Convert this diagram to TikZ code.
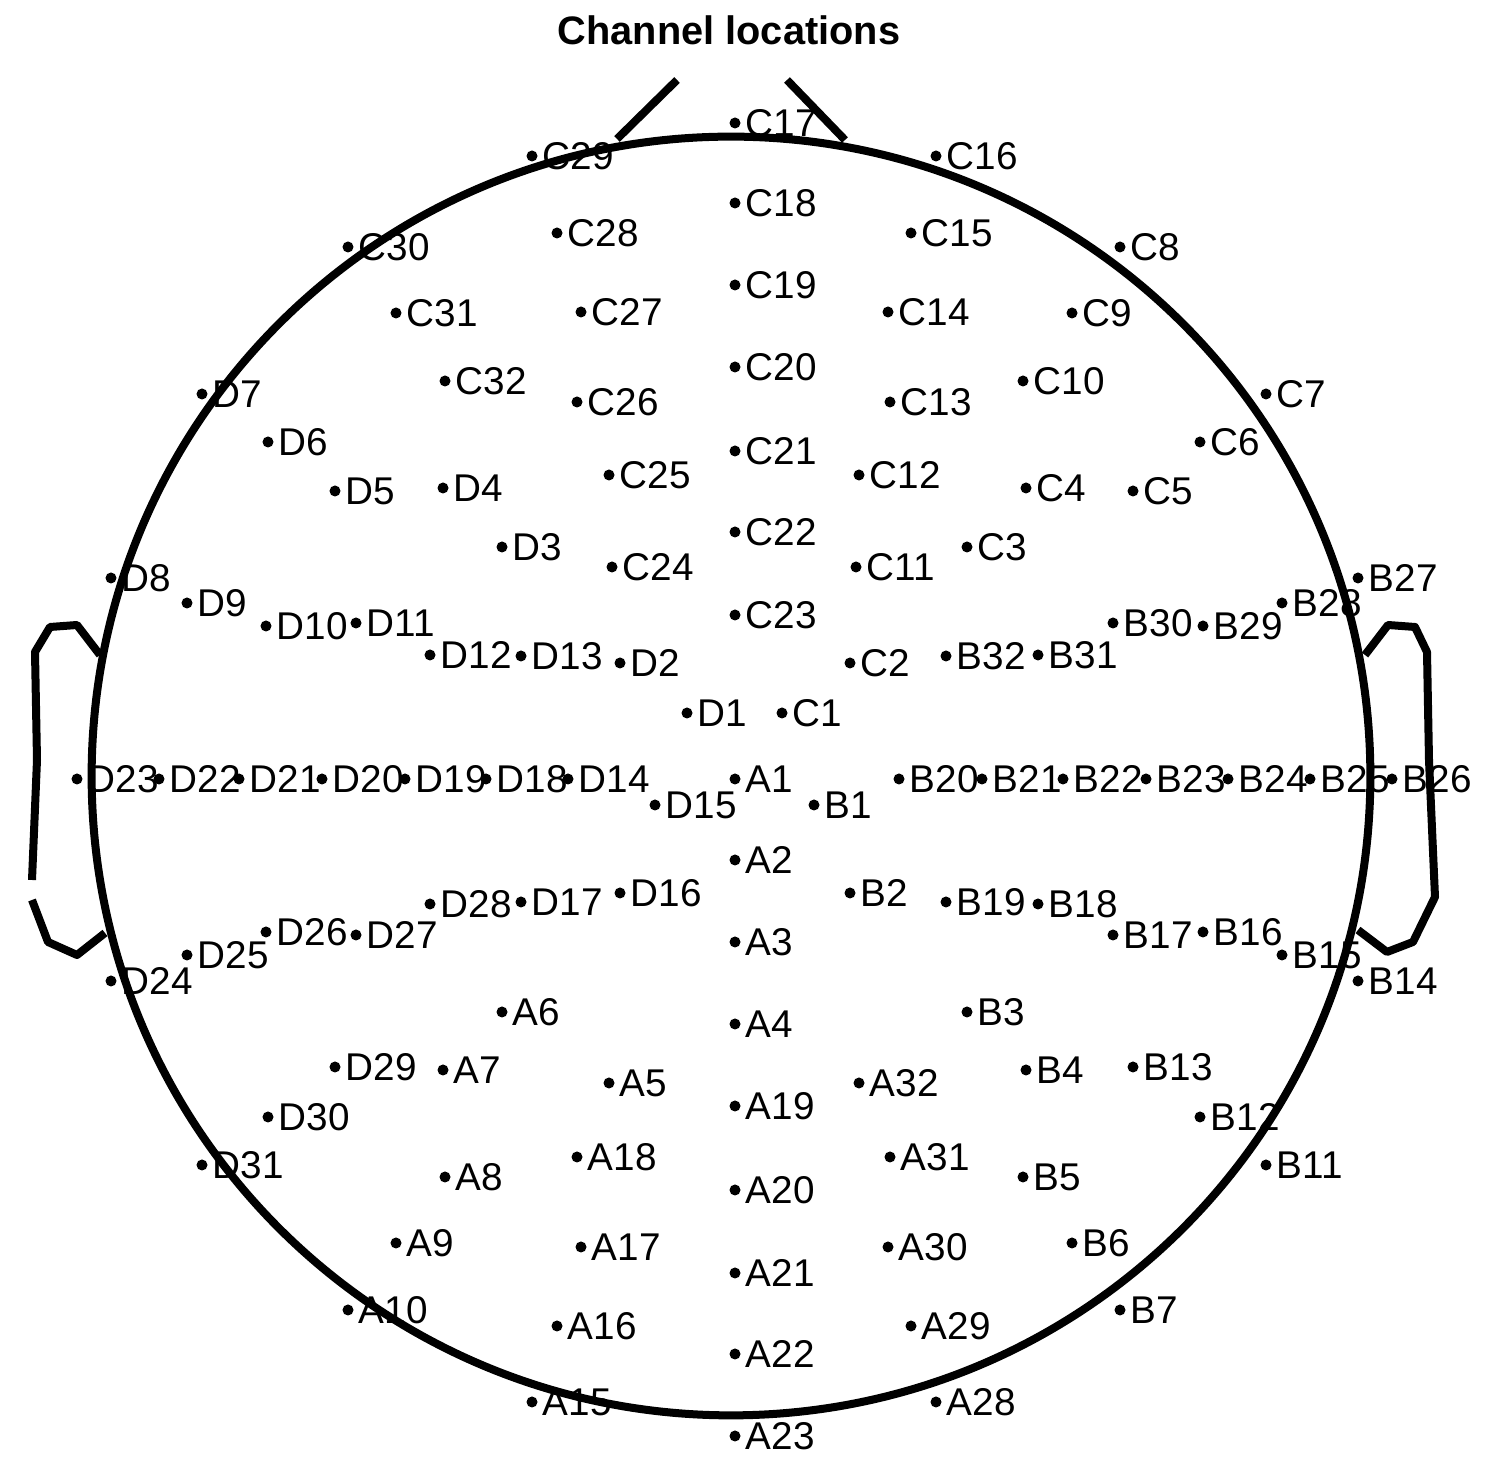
\documentclass[tikz,border=0pt]{standalone}
\usepackage{fontspec}
\setmainfont{Liberation Sans}
\usetikzlibrary{calc}
\tikzset{
  headline/.style={line width=0.08cm, line join=round},
  chdot/.style={
    circle, fill=black, inner sep=0pt, minimum size=0.11cm
  },
  chlabel/.style={
    anchor=base west, inner sep=0pt, font=\fontsize{11}{13}\selectfont
  },
  plottitle/.style={
    anchor=base, inner sep=0pt, font=\fontsize{11.3}{13}\selectfont\bfseries
  },
}

\begin{document}
\begin{tikzpicture}[x=0.01cm, y=-0.01cm]
  \useasboundingbox (0,0) rectangle (1487,1474);

  % --- Title ---
  \node[plottitle] (title) at (729,45) {Channel locations};

  % --- Head, nose and ears ---
  \coordinate (head) at (731,776);
  \draw[headline] (head) circle[radius=6.39cm];
  \draw[headline] (617,139) -- (677,80);
  \draw[headline] (787,80) -- (845,140);
  \draw[headline] (100,655) -- (77,625) -- (50,627) -- (35,652)
    -- (37,760) -- (32,880);
  \draw[headline] (32,900) -- (48,942) -- (77,955) -- (105,933);
  \draw[headline] (1365,655) -- (1388,625) -- (1415,627) -- (1427,652)
    -- (1429,760) -- (1435,897) -- (1413,942) -- (1387,952) -- (1358,930);

  % --- Channels ---
  \foreach \n/\x/\y in {
    C17/735/123, C18/735/203, C19/735/285, C20/735/367, C21/735/451,
    C22/735/532, C23/735/615, A1/735/779, A2/735/860, A3/735/942,
    A4/735/1024, A19/735/1106, A20/735/1190, A21/735/1273, A22/735/1354,
    A23/735/1436,
    C29/532/156, C16/936/156, C28/557/233, C15/911/233, C30/348/247,
    C8/1120/247, C31/396/313, C27/581/312, C14/888/312, C9/1072/313,
    C32/445/381, C10/1023/381, C26/577/402, C13/890/402, D7/202/394,
    C7/1266/394, D6/268/442, C6/1200/442, D5/335/491, C5/1133/491,
    D4/443/488, C4/1026/488, C25/609/475, C12/859/475, D3/502/547,
    C3/967/547, C24/612/567, C11/856/567, D8/111/578, B27/1358/578,
    D9/187/603, B28/1282/603, D10/266/626, B29/1203/626, D11/356/623,
    B30/1113/623, D12/430/655, B31/1038/655, D13/521/656, B32/946/656,
    D2/620/663, C2/850/663, D1/687/713, C1/782/713,
    D23/77/779, D22/159/779, D21/239/779, D20/322/779, D19/405/779,
    D18/486/779, D14/568/779, B20/899/779, B21/982/779, B22/1063/779,
    B23/1146/779, B24/1228/779, B25/1310/779, B26/1392/779,
    D15/655/805, B1/814/805,
    D16/620/893, B2/850/893, D17/521/902, B19/946/902, D28/430/904,
    B18/1038/904, D27/356/935, B17/1113/935, D26/266/932, B16/1203/932,
    D25/187/955, B15/1282/955, D24/111/981, B14/1358/981, A6/502/1012,
    B3/967/1012, D29/335/1067, B13/1133/1067, A7/443/1070, B4/1026/1070,
    A5/609/1083, A32/859/1083, D30/268/1117, B12/1200/1117, D31/202/1165,
    B11/1266/1165, A18/577/1157, A31/890/1157, A8/445/1177, B5/1023/1177,
    A9/396/1243, B6/1072/1243, A17/581/1247, A30/888/1247, A10/348/1310,
    B7/1120/1310, A16/557/1326, A29/911/1326, A15/532/1402, A28/936/1402}
  {
    \node[chdot] (\n) at (\x,\y) {};
    \node[chlabel] (\n-lbl) at ([xshift=0.1cm, yshift=-0.135cm]\n.center) {\n};
  }
\end{tikzpicture}
\end{document}
